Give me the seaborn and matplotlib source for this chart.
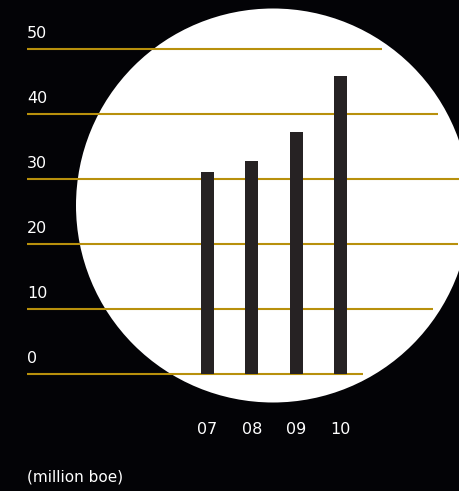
import numpy as np
import pandas as pd
import matplotlib
matplotlib.use("Agg")
import matplotlib.pyplot as plt
from matplotlib.patches import Ellipse
import seaborn as sns

# Data
years = ["07", "08", "09", "10"]
production = [31.1, 32.8, 37.2, 45.8]
y_ticks = [0, 10, 20, 30, 40, 50]
unit_label = "(million boe)"

# Layout (pixels of a 460x491 canvas)
W, H = 460, 491
line_start = 27
line_ends = [363, 433, 458, 460, 438, 382]   # for ticks 0..50
zero_px, px_per_unit = 374, 6.5
bar_x0, bar_step = 207.5, 44.3

bg = "#030306"
gold = "#b8900c"
bar_color = "#262223"

sns.set_style("white")
plt.rcParams['font.family'] = ['DejaVu Sans']

fig = plt.figure(figsize=(W / 100, H / 100), dpi=100, facecolor=bg)
ax = fig.add_axes([0, 0, 1, 1])
ax.set_facecolor(bg)

# white circle behind everything
circle = Ellipse((273 / W, 1 - 205.5 / H), 2 * 197 / W, 2 * 197 / H,
                 transform=fig.transFigure, facecolor="white", edgecolor="none", zorder=0)
ax.add_patch(circle)

# gold gridlines of varying length
ytf = ax.get_yaxis_transform()
for t, end in zip(y_ticks, line_ends):
    ax.plot([line_start / W, end / W], [t, t], color=gold, lw=1.5, transform=ytf, zorder=1,
            solid_capstyle="butt")
    ax.text(line_start / W, t + 1.3, str(t), transform=ytf, color="white",
            fontsize=11.5, ha="left", va="bottom", zorder=3)

df = pd.DataFrame({"year": years, "value": production})
sns.barplot(data=df, x="year", y="value", color=bar_color, width=0.29,
            saturation=1, linewidth=0, ax=ax, zorder=2)

# map data coordinates onto the pixel layout
ax.set_ylim((zero_px - H) / px_per_unit, zero_px / px_per_unit)
ax.set_xlim(-bar_x0 / bar_step, (W - bar_x0) / bar_step)

for i, yr in enumerate(years):
    ax.text(i, (zero_px - 429) / px_per_unit, yr, color="white", fontsize=11.5,
            ha="center", va="center")

fig.text(line_start / W, 1 - 477 / H, unit_label, color="white", fontsize=11,
         ha="left", va="center")

ax.set_xlabel("")
ax.set_ylabel("")
ax.set_xticks([])
ax.set_yticks([])
for s in ax.spines.values():
    s.set_visible(False)

fig.savefig("out.png", dpi=100, facecolor=bg)
